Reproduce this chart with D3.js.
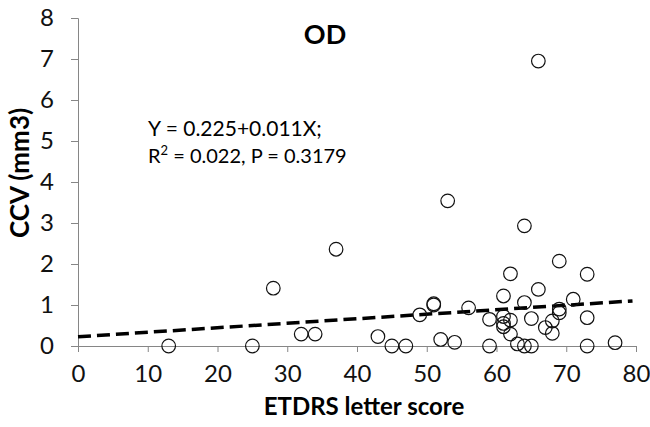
<!DOCTYPE html>
<html>
<head>
<meta charset="utf-8">
<script src="https://cdn.jsdelivr.net/npm/d3@7"></script>
<style>
  body { margin: 0; background: #fff; }
  text { font-family: Lato, "Open Sans", sans-serif; }
</style>
</head>
<body>
<div id="chart"></div>
<script>
// chart size
const width = 650;
const height = 427;
const margin = { top: 18, right: 14, bottom: 81, left: 78 };

// ETDRS letter score (x) and CCV in mm3 (y)
const scores = [13, 25, 28, 32, 34, 37, 43, 45, 47, 49, 51, 51, 52, 53, 54,
  56, 59, 59, 61, 61, 61, 61, 62, 62, 62, 63, 64, 64, 64, 65, 65, 66, 66,
  67, 68, 68, 69, 69, 69, 71, 73, 73, 73, 77];
const ccv = [0, 0, 1.41, 0.29, 0.29, 2.36, 0.23, 0, 0, 0.76, 1.0, 1.03, 0.16, 3.54, 0.09,
  0.93, 0, 0.65, 1.22, 0.72, 0.55, 0.47, 1.76, 0.63, 0.29, 0.05, 0, 1.06, 2.93, 0, 0.67, 1.38, 6.95,
  0.45, 0.61, 0.31, 2.07, 0.9, 0.81, 1.14, 1.75, 0.69, 0, 0.08];

const xTicks = [0, 10, 20, 30, 40, 50, 60, 70, 80];
const yTicks = [0, 1, 2, 3, 4, 5, 6, 7, 8];

// fitted line Y = 0.225 + 0.011X
const intercept = 0.225;
const slope = 0.011;

const data = scores.map((d, i) => ({ x: d, y: ccv[i] }));

const svg = d3.select("#chart")
  .append("svg")
  .attr("width", width)
  .attr("height", height);

const xScale = d3.scaleLinear()
  .domain([0, 80])
  .range([margin.left, width - margin.right]);

const yScale = d3.scaleLinear()
  .domain([0, 8])
  .range([height - margin.bottom, margin.top]);

const axisColor = "#868686";

// X axis
const xAxis = svg.append("g")
  .attr("transform", `translate(0, ${yScale(0)})`)
  .call(d3.axisBottom(xScale).tickValues(xTicks).tickSize(6).tickPadding(13));

// Y axis
const yAxis = svg.append("g")
  .attr("transform", `translate(${xScale(0)}, 0)`)
  .call(d3.axisLeft(yScale).tickValues(yTicks).tickSize(7).tickPadding(17));

[xAxis, yAxis].forEach(g => {
  g.select(".domain").attr("stroke", axisColor).attr("stroke-width", 1);
  g.selectAll(".tick line").attr("stroke", axisColor).attr("stroke-width", 1);
  g.selectAll(".tick text")
    .attr("fill", "#111")
    .style("font-family", "Lato, 'Open Sans', sans-serif")
    .style("font-size", "24px");
});

// regression line
svg.append("line")
  .attr("x1", xScale(0))
  .attr("y1", yScale(intercept))
  .attr("x2", xScale(79.5))
  .attr("y2", yScale(intercept + slope * 79.5))
  .attr("stroke", "#000")
  .attr("stroke-width", 3.5)
  .attr("stroke-dasharray", "13,6");

// points
svg.selectAll("circle")
  .data(data)
  .enter()
  .append("circle")
  .attr("cx", d => xScale(d.x))
  .attr("cy", d => yScale(d.y))
  .attr("r", 6.8)
  .attr("fill", "none")
  .attr("stroke", "#111")
  .attr("stroke-width", 1.2);

// title
svg.append("text")
  .attr("x", 325)
  .attr("y", 44)
  .attr("text-anchor", "middle")
  .style("font-size", "27px")
  .style("font-weight", "bold")
  .text("OD");

// equation
svg.append("text")
  .attr("x", 148)
  .attr("y", 136)
  .style("font-size", "21px")
  .text("Y = 0.225+0.011X;");

const eq2 = svg.append("text")
  .attr("x", 148)
  .attr("y", 163)
  .style("font-size", "20px");
eq2.append("tspan").text("R");
eq2.append("tspan").attr("dy", -8).style("font-size", "13px").text("2");
eq2.append("tspan").attr("dy", 8).text(" = 0.022, P = 0.3179");

// axis labels
svg.append("text")
  .attr("x", 364)
  .attr("y", 415)
  .attr("text-anchor", "middle")
  .style("font-size", "24px")
  .style("font-weight", "bold")
  .text("ETDRS letter score");

svg.append("text")
  .attr("transform", "translate(29, 173) rotate(-90)")
  .attr("text-anchor", "middle")
  .style("font-size", "26px")
  .style("font-weight", "bold")
  .text("CCV (mm3)");
</script>
</body>
</html>
